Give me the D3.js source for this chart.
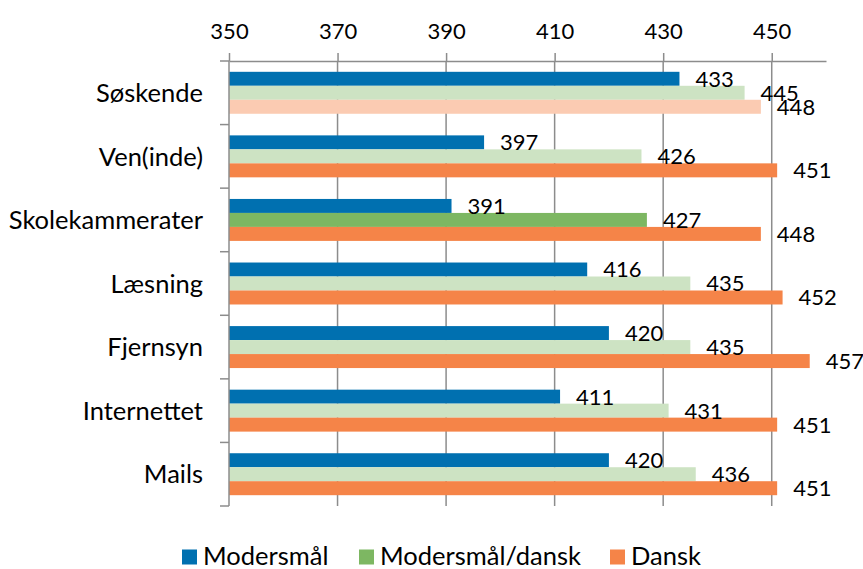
<!DOCTYPE html>
<html lang="da">
<head>
<meta charset="UTF-8">
<script src="https://d3js.org/d3.v7.min.js"></script>
<title>Modersmål / dansk</title>
<style>
  body { margin: 0; background: #fff; }
  text { font-family: Lato, "Open Sans", sans-serif; fill: #000; }
</style>
</head>
<body>
<svg id="chart" width="863" height="569"></svg>
<script>
// data
const categories = ["Søskende", "Ven(inde)", "Skolekammerater", "Læsning", "Fjernsyn", "Internettet", "Mails"];
const seriesNames = ["Modersmål", "Modersmål/dansk", "Dansk"];
const modersmaal = [433, 397, 391, 416, 420, 411, 420];
const modersmaalDansk = [445, 426, 427, 435, 435, 431, 436];
const dansk = [448, 451, 448, 452, 457, 451, 451];
const xTicks = [350, 370, 390, 410, 430, 450];

const series = [modersmaal, modersmaalDansk, dansk];

// colours
const barColors = ["#0070b0", "#cde3c3", "#f58448"];
const legendColors = ["#0070b0", "#7db762", "#f58448"];
// single bars drawn in another shade in the original
const specialColors = { "Søskende|2": "#fbcbb2", "Skolekammerater|1": "#7db762" };

const numSize = 22;   // digits
const wordSize = 25.5; // category names and legend

const svg = d3.select("#chart");
const margin = { top: 61, right: 37, bottom: 63, left: 229 };
const W = +svg.attr("width"), H = +svg.attr("height");

const x = d3.scaleLinear().domain([350, 460]).range([margin.left, W - margin.right]);
const y = d3.scaleBand().domain(categories).range([margin.top, H - margin.bottom]).paddingInner(0.34).paddingOuter(0.17);
const yInner = d3.scaleBand().domain(d3.range(series.length)).range([0, y.bandwidth()]);

const gridColor = "#8c8c8c";

// vertical gridlines
svg.append("g")
  .selectAll("line")
  .data(xTicks.slice(1))
  .join("line")
  .attr("x1", d => x(d)).attr("x2", d => x(d))
  .attr("y1", margin.top).attr("y2", H - margin.bottom)
  .attr("stroke", gridColor).attr("stroke-width", 1.5);

// bars
const rows = [];
categories.forEach((c, i) => {
  series.forEach((s, j) => rows.push({ cat: c, j: j, v: s[i] }));
});

svg.append("g")
  .selectAll("rect")
  .data(rows)
  .join("rect")
  .attr("x", x(350))
  .attr("y", d => y(d.cat) + yInner(d.j))
  .attr("width", d => x(d.v) - x(350))
  .attr("height", yInner.bandwidth())
  .attr("fill", d => specialColors[d.cat + "|" + d.j] || barColors[d.j]);

// value labels
svg.append("g")
  .selectAll("text")
  .data(rows)
  .join("text")
  .attr("x", d => x(d.v) + 16)
  .attr("y", d => y(d.cat) + yInner(d.j) + yInner.bandwidth() / 2)
  .attr("dy", "0.36em")
  .attr("font-size", numSize)
  .text(d => d.v);

// top axis
const xAxis = svg.append("g")
  .attr("transform", `translate(0,${margin.top})`)
  .call(d3.axisTop(x).tickValues(xTicks).tickSize(8).tickPadding(14).tickSizeOuter(0));
xAxis.select(".domain").attr("stroke", gridColor).attr("stroke-width", 1.5);
xAxis.selectAll(".tick line").attr("stroke", gridColor).attr("stroke-width", 1.5);
xAxis.selectAll(".tick text").attr("font-size", numSize).attr("font-family", "Lato, sans-serif");

// left category axis
const yAxis = svg.append("g").attr("transform", `translate(${margin.left},0)`);
yAxis.append("line")
  .attr("x1", 0).attr("x2", 0)
  .attr("y1", margin.top).attr("y2", H - margin.bottom)
  .attr("stroke", gridColor).attr("stroke-width", 1.5);
const bounds = categories.map(c => y(c) - y.step() * y.paddingInner() / 2).concat([H - margin.bottom]);
yAxis.selectAll("line.tk")
  .data(bounds)
  .join("line")
  .attr("class", "tk")
  .attr("x1", -9).attr("x2", 0)
  .attr("y1", d => d).attr("y2", d => d)
  .attr("stroke", gridColor).attr("stroke-width", 1.5);
yAxis.selectAll("text")
  .data(categories)
  .join("text")
  .attr("x", -26)
  .attr("y", d => y(d) + y.bandwidth() / 2)
  .attr("dy", "0.36em")
  .attr("text-anchor", "end")
  .attr("font-size", wordSize)
  .text(d => d);

// legend
const legendX = [182, 359, 610];
const legend = svg.append("g").attr("transform", "translate(0,556)");
seriesNames.forEach((name, i) => {
  legend.append("rect")
    .attr("x", legendX[i]).attr("y", -6.5)
    .attr("width", 15).attr("height", 15)
    .attr("fill", legendColors[i]);
  legend.append("text")
    .attr("x", legendX[i] + 21).attr("y", 0)
    .attr("dy", "0.36em")
    .attr("font-size", wordSize)
    .text(name);
});
</script>
</body>
</html>
